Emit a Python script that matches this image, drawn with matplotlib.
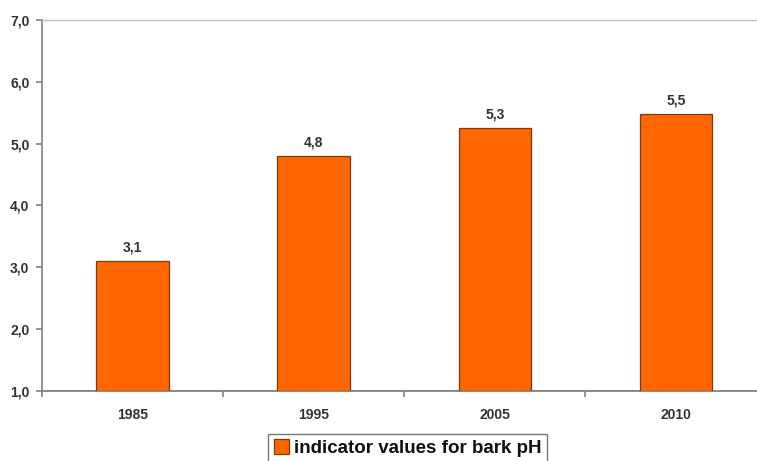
import matplotlib.pyplot as plt
from matplotlib.ticker import FixedLocator, FuncFormatter

plt.rcParams['font.family'] = ['Liberation Sans', 'DejaVu Sans']

years = ['1985', '1995', '2005', '2010']
ph_values = [3.1, 4.8, 5.25, 5.48]
ph_labels = ['3,1', '4,8', '5,3', '5,5']

fig = plt.figure(figsize=(7.57, 4.61), dpi=100)
ax = fig.add_axes([0.0555, 0.152, 0.957, 0.805])

x = list(range(len(years)))
bars = ax.bar(x, [v - 1.0 for v in ph_values], bottom=1.0, width=0.4,
              color='#ff6600', edgecolor='#7a3a10', linewidth=0.9,
              label='indicator values for bark pH', zorder=3)

for xi, v, lab in zip(x, ph_values, ph_labels):
    ax.text(xi, v + 0.1, lab, ha='center', va='bottom',
            fontsize=10, fontweight='bold', color='#333333')

ax.set_xlim(-0.5, len(years) - 0.5)
ax.set_ylim(1.0, 7.0)
ax.set_yticks([1, 2, 3, 4, 5, 6, 7])
ax.yaxis.set_major_formatter(FuncFormatter(lambda v, p: ('%.1f' % v).replace('.', ',')))
ax.set_xticks(x)
ax.set_xticklabels(years)
ax.xaxis.set_minor_locator(FixedLocator([i + 0.5 for i in range(-1, len(years))]))

ax.tick_params(axis='x', which='major', length=0, pad=12, labelsize=10, labelcolor='#333333')
ax.tick_params(axis='x', which='minor', length=4, color='#808080', width=1.2)
ax.tick_params(axis='y', length=4, color='#808080', width=1.2, pad=5, labelsize=10, labelcolor='#333333')
for lab in ax.get_xticklabels() + ax.get_yticklabels():
    lab.set_fontweight('bold')

ax.spines['left'].set_color('#8a8a8a')
ax.spines['left'].set_linewidth(1.3)
ax.spines['bottom'].set_color('#808080')
ax.spines['bottom'].set_linewidth(1.3)
ax.spines['top'].set_color('#c0c0c0')
ax.spines['top'].set_linewidth(1.0)
ax.spines['right'].set_visible(False)

leg = fig.legend(handles=[bars], loc='upper left', bbox_to_anchor=(0.354, 0.059),
                 frameon=True, fancybox=False, handlelength=0.8, handleheight=0.8,
                 handletextpad=0.3, borderpad=0.3, borderaxespad=0,
                 prop={'weight': 'bold', 'size': 13.5})
leg.get_frame().set_edgecolor('#555555')
leg.get_frame().set_linewidth(1.0)
leg.get_texts()[0].set_color('#111111')

fig.savefig('out.png', dpi=100)
